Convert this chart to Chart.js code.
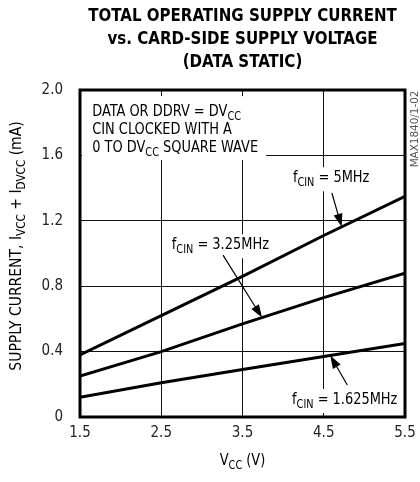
<!DOCTYPE html>
<html>
<head>
<meta charset="utf-8">
<script src="https://cdn.jsdelivr.net/npm/chart.js@4.4.1/dist/chart.umd.min.js"></script>
<style>
  body { margin: 0; background: #fff; }
  #wrap { width: 420px; height: 482px; }
</style>
</head>
<body>
<div id="wrap"><canvas id="myChart" width="420" height="482"></canvas></div>
<script>
// datos
const vcc = [1.5, 2.5, 3.5, 4.5, 5.5];
const i5MHz = [0.38, 0.62, 0.86, 1.11, 1.35];
const i325MHz = [0.25, 0.40, 0.57, 0.73, 0.88];
const i1625MHz = [0.12, 0.21, 0.29, 0.37, 0.45];
const xTicks = [1.5, 2.5, 3.5, 4.5, 5.5];
const yTicks = [0, 0.4, 0.8, 1.2, 1.6, 2.0];
const titulo = ['TOTAL OPERATING SUPPLY CURRENT', 'vs. CARD-SIDE SUPPLY VOLTAGE', '(DATA STATIC)'];

const FAM = "'Liberation Sans Narrow', 'DejaVu Sans Condensed', Arial, sans-serif";
const NARROW = 0.9; // compresion horizontal para imitar la fuente estrecha

function toPts(ys) {
    return vcc.map((v, i) => ({ x: v, y: ys[i] }));
}

function fontOf(p, size) {
    return (p.sub ? Math.round(size * 0.72) : size) + 'px ' + FAM;
}

function measureRich(ctx, parts, size) {
    let w = 0;
    parts.forEach(p => {
        ctx.font = fontOf(p, size);
        w += ctx.measureText(p.t).width;
    });
    return w;
}

// texto con subindices, comprimido en horizontal
function drawRich(ctx, parts, x, y, align, size, sx) {
    sx = sx || NARROW;
    const w = measureRich(ctx, parts, size) * sx;
    let x0 = align === 'center' ? x - w / 2 : (align === 'right' ? x - w : x);
    ctx.save();
    ctx.translate(x0, y);
    ctx.scale(sx, 1);
    ctx.textAlign = 'left';
    ctx.textBaseline = 'middle';
    let cx = 0;
    parts.forEach(p => {
        ctx.font = fontOf(p, size);
        ctx.fillText(p.t, cx, p.sub ? size * 0.3 : 0);
        cx += ctx.measureText(p.t).width;
    });
    ctx.restore();
    return w;
}

function drawArrow(ctx, x1, y1, x2, y2) {
    const ang = Math.atan2(y2 - y1, x2 - x1);
    const len = 13, hw = 4.5;
    ctx.strokeStyle = '#000';
    ctx.lineWidth = 1.2;
    ctx.beginPath();
    ctx.moveTo(x1, y1);
    ctx.lineTo(x2 - Math.cos(ang) * len * 0.8, y2 - Math.sin(ang) * len * 0.8);
    ctx.stroke();
    ctx.fillStyle = '#000';
    ctx.beginPath();
    ctx.moveTo(x2, y2);
    ctx.lineTo(x2 - Math.cos(ang) * len - Math.sin(ang) * hw, y2 - Math.sin(ang) * len + Math.cos(ang) * hw);
    ctx.lineTo(x2 - Math.cos(ang) * len + Math.sin(ang) * hw, y2 - Math.sin(ang) * len - Math.cos(ang) * hw);
    ctx.closePath();
    ctx.fill();
}

const notaBloque = [
    [{ t: 'DATA OR DDRV = DV' }, { t: 'CC', sub: true }],
    [{ t: 'CIN CLOCKED WITH A' }],
    [{ t: '0 TO DV' }, { t: 'CC', sub: true }, { t: ' SQUARE WAVE' }]
];

// etiquetas de curvas: posicion del texto y flecha en coordenadas de datos
const etiquetas = [
    { parts: [{ t: 'f' }, { t: 'CIN', sub: true }, { t: ' = 5MHz' }], at: [4.12, 1.46], from: [4.60, 1.37], to: [4.72, 1.163] },
    { parts: [{ t: 'f' }, { t: 'CIN', sub: true }, { t: ' = 3.25MHz' }], at: [2.63, 1.05], from: [3.26, 0.99], to: [3.74, 0.608] },
    { parts: [{ t: 'f' }, { t: 'CIN', sub: true }, { t: ' = 1.625MHz' }], at: [4.11, 0.104], from: [4.79, 0.196], to: [4.58, 0.376] }
];

const anotaciones = {
    id: 'anotaciones',
    beforeDatasetsDraw(chart) {
        const ctx = chart.ctx;
        const xs = chart.scales.x, ys = chart.scales.y;
        const a = chart.chartArea;
        const size = 16;
        ctx.save();
        // bloque de texto arriba a la izquierda
        const bx = xs.getPixelForValue(1.65);
        const lineY = [1.865, 1.755, 1.645].map(v => ys.getPixelForValue(v));
        let maxW = 0;
        notaBloque.forEach(p => { maxW = Math.max(maxW, measureRich(ctx, p, size) * NARROW); });
        ctx.fillStyle = '#fff';
        ctx.fillRect(a.left + 2, lineY[0] - 16, bx - a.left + maxW + 6, lineY[2] - lineY[0] + 28);
        ctx.fillStyle = '#000';
        notaBloque.forEach((p, i) => drawRich(ctx, p, bx, lineY[i], 'left', size));

        etiquetas.forEach(e => {
            const x = xs.getPixelForValue(e.at[0]);
            const y = ys.getPixelForValue(e.at[1]);
            const w = measureRich(ctx, e.parts, size) * NARROW;
            ctx.fillStyle = '#fff';
            ctx.fillRect(x - 3, y - 11, w + 6, 24);
            ctx.fillStyle = '#000';
            drawRich(ctx, e.parts, x, y, 'left', size);
            drawArrow(ctx, xs.getPixelForValue(e.from[0]), ys.getPixelForValue(e.from[1]),
                xs.getPixelForValue(e.to[0]), ys.getPixelForValue(e.to[1]));
        });
        ctx.restore();
    },
    afterDraw(chart) {
        const ctx = chart.ctx;
        const a = chart.chartArea;
        ctx.save();
        // marco grueso
        ctx.strokeStyle = '#000';
        ctx.lineWidth = 3;
        ctx.strokeRect(a.left, a.top, a.right - a.left, a.bottom - a.top);

        // titulo
        const cx = (a.left + a.right) / 2;
        ctx.fillStyle = '#000';
        titulo.forEach((t, i) => {
            ctx.save();
            ctx.font = 'bold 18px ' + FAM;
            const w = ctx.measureText(t).width * 0.93;
            ctx.translate(cx - w / 2, 16 + i * 23);
            ctx.scale(0.93, 1);
            ctx.textAlign = 'left';
            ctx.textBaseline = 'middle';
            ctx.fillText(t, 0, 0);
            ctx.restore();
        });

        // titulo eje x
        drawRich(ctx, [{ t: 'V' }, { t: 'CC', sub: true }, { t: ' (V)' }], cx, 461, 'center', 16);

        // titulo eje y
        ctx.save();
        ctx.translate(17, 246);
        ctx.rotate(-Math.PI / 2);
        drawRich(ctx, [{ t: 'SUPPLY CURRENT, I' }, { t: 'VCC', sub: true }, { t: ' + I' }, { t: 'DVCC', sub: true }, { t: ' (mA)' }], 0, 0, 'center', 16, 0.97);
        ctx.restore();

        // codigo de figura
        ctx.save();
        ctx.translate(415, 129);
        ctx.rotate(-Math.PI / 2);
        ctx.fillStyle = '#555';
        drawRich(ctx, [{ t: 'MAX1840/1-02' }], 0, 0, 'center', 11, 1.05);
        ctx.restore();
        ctx.restore();
    }
};

const linea = {
    borderColor: '#000',
    borderWidth: 3,
    pointRadius: 0,
    fill: false,
    tension: 0
};

const myChart = new Chart(document.getElementById('myChart'), {
    type: 'line',
    data: {
        datasets: [
            Object.assign({ label: '5MHz', data: toPts(i5MHz) }, linea),
            Object.assign({ label: '3.25MHz', data: toPts(i325MHz) }, linea),
            Object.assign({ label: '1.625MHz', data: toPts(i1625MHz) }, linea)
        ]
    },
    options: {
        responsive: false,
        animation: false,
        layout: { padding: { left: 0, right: 15, top: 90, bottom: 0 } },
        plugins: {
            legend: { display: false },
            tooltip: { enabled: false }
        },
        scales: {
            x: {
                type: 'linear',
                min: 1.5,
                max: 5.5,
                afterBuildTicks: s => { s.ticks = xTicks.map(v => ({ value: v })); },
                afterFit: s => { s.height = 65; s.paddingLeft = 0; s.paddingRight = 0; },
                grid: { color: '#111', lineWidth: 1, drawTicks: false },
                border: { display: false },
                ticks: {
                    color: '#222',
                    padding: 7,
                    font: { family: FAM, size: 15 },
                    callback: v => v.toFixed(1)
                }
            },
            y: {
                min: 0,
                max: 2,
                afterBuildTicks: s => { s.ticks = yTicks.map(v => ({ value: v })); },
                afterFit: s => { s.width = 80; s.paddingTop = 0; s.paddingBottom = 0; },
                grid: { color: '#111', lineWidth: 1, drawTicks: false },
                border: { display: false },
                ticks: {
                    color: '#222',
                    padding: 17,
                    font: { family: FAM, size: 15 },
                    callback: v => v === 0 ? '0' : v.toFixed(1)
                }
            }
        }
    },
    plugins: [anotaciones]
});
</script>
</body>
</html>
